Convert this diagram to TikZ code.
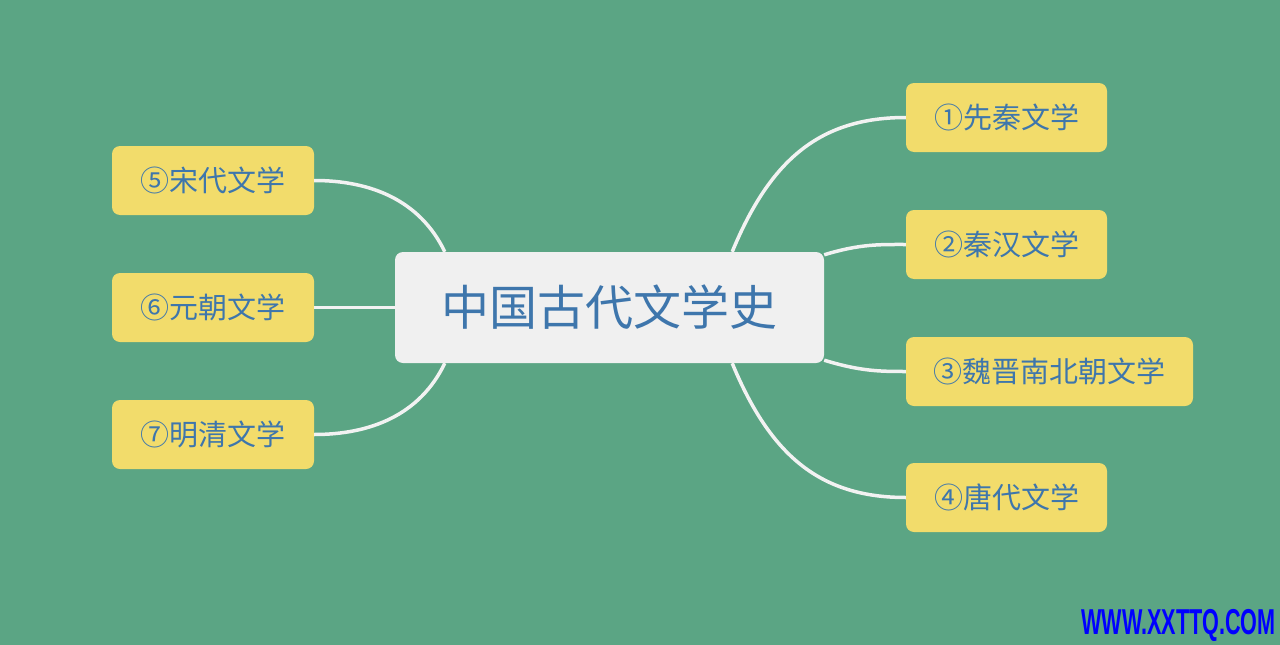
\documentclass[tikz,border=0pt]{standalone}
\usepackage{fontspec}
\newfontfamily\cjk{Noto Sans CJK SC}
\newfontfamily\wmfont{Liberation Sans}
\definecolor{bg}{HTML}{5BA584}
\definecolor{leaf}{HTML}{F2DC6B}
\definecolor{ink}{HTML}{3E76AC}
\definecolor{rootfill}{HTML}{F0F0F0}
\definecolor{wire}{HTML}{F2F2F2}
\begin{document}
\begin{tikzpicture}[x=1pt,y=-1pt,
  rootbox/.style={fill=rootfill, rounded corners=8pt, minimum width=429pt, minimum height=111pt, inner sep=0pt, text=ink, font=\cjk\fontsize{48}{56}\selectfont},
  leafbox/.style={fill=leaf, rounded corners=8pt, minimum width=201pt, minimum height=69pt, inner sep=0pt, text=ink, font=\cjk\fontsize{29}{34}\selectfont},
  link/.style={draw=wire, line width=3.5pt}]
\useasboundingbox (0,0) rectangle (1280,645);
\fill[bg] (0,0) rectangle (1280,645);
\node[rootbox] (root) at (609.5,307.5) {中国古代文学史};
\node[leafbox] (n1) at (1006.5,117.5) {①先秦文学};
\node[leafbox] (n2) at (1006.5,244.5) {②秦汉文学};
\node[leafbox, minimum width=287pt] (n3) at (1049.5,371.5) {③魏晋南北朝文学};
\node[leafbox] (n4) at (1006.5,497.5) {④唐代文学};
\node[leafbox, minimum width=202pt] (n5) at (213,180.5) {⑤宋代文学};
\node[leafbox, minimum width=202pt] (n6) at (213,307.5) {⑥元朝文学};
\node[leafbox, minimum width=202pt] (n7) at (213,434.5) {⑦明清文学};
\draw[link] ([xshift=-92pt]root.north east) .. controls +(38,-92) and +(-86,0) .. (n1.west);
\draw[link] ([yshift=-3pt]root.north east) .. controls +(36,-11) and +(-26,0) .. (n2.west);
\draw[link] ([yshift=3pt]root.south east) .. controls +(36,11) and +(-26,0) .. (n3.west);
\draw[link] ([xshift=-92pt]root.south east) .. controls +(38,92) and +(-86,0) .. (n4.west);
\draw[link] ([xshift=50pt]root.north west) .. controls +(-25,-52) and +(56,0) .. (n5.east);
\draw[link] (root.west) -- (n6.east);
\draw[link] ([xshift=50pt]root.south west) .. controls +(-25,52) and +(56,0) .. (n7.east);
\node[text=blue, font=\wmfont\bfseries\fontsize{36}{40}\selectfont, xscale=0.6, inner sep=0pt] (wm) at (1178.5,625) {WWW.XXTTQ.COM};
\end{tikzpicture}
\end{document}
